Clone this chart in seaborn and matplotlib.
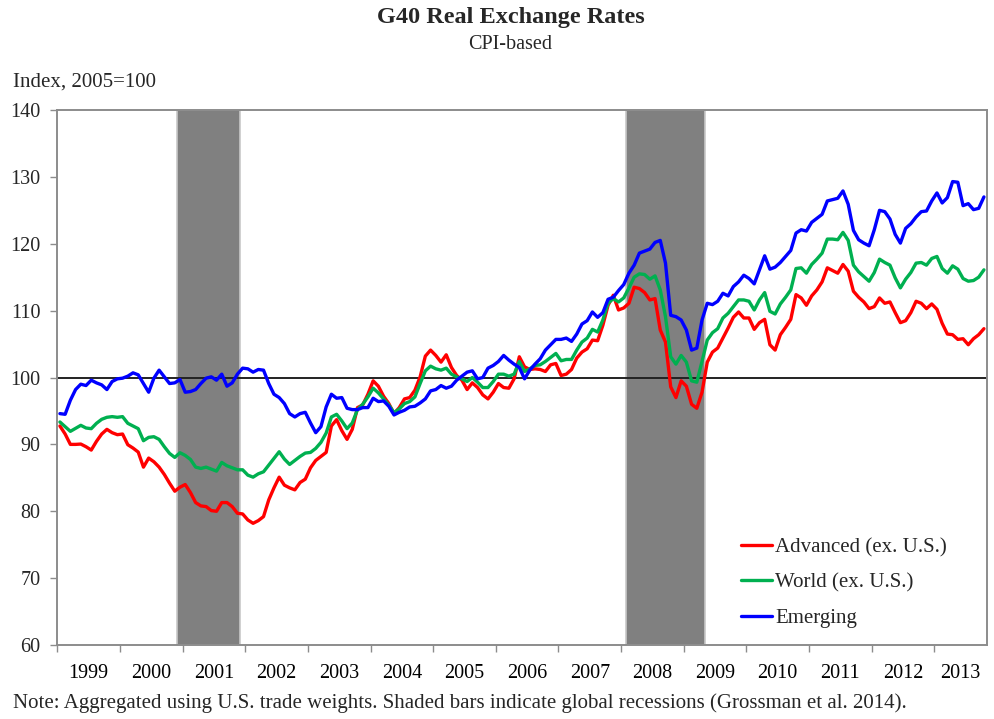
import matplotlib
matplotlib.use("Agg")
import matplotlib.pyplot as plt
import numpy as np
import pandas as pd
import seaborn as sns

# monthly index values, 2005 = 100, starting Jan 1999
start_month = "1999-01"

advanced = [
    92.75, 91.55, 90.0, 90.0, 90.05, 89.65, 89.15, 90.45, 91.55, 92.25, 91.75, 91.45,
    91.55, 89.95, 89.45, 88.85, 86.6, 87.95, 87.4, 86.6, 85.5, 84.2, 83.0, 83.6,
    84.0, 82.8, 81.3, 80.8, 80.7, 80.1, 80.0, 81.3, 81.3, 80.7, 79.7, 79.6,
    78.7, 78.2, 78.6, 79.2, 81.7, 83.5, 85.1, 83.9, 83.5, 83.2, 84.3, 84.8,
    86.5, 87.6, 88.2, 88.8, 92.75, 93.7, 92.05, 90.75, 92.25, 95.5, 95.9, 97.5,
    99.5, 98.7, 97.2, 96.1, 94.6, 95.5, 96.8, 97.0, 98.1, 100.1, 103.2, 104.1,
    103.3, 102.3, 103.4, 101.5, 100.3, 99.6, 98.2, 99.2, 98.5, 97.4, 96.8, 97.8,
    99.1, 98.5, 98.4, 99.8, 103.1, 101.6, 101.2, 101.3, 101.2, 100.9, 101.9, 102.1,
    100.3, 100.5, 101.2, 102.9, 103.8, 104.3, 105.6, 105.5, 107.8, 110.8, 112.3, 110.1,
    110.4, 111.1, 113.5, 113.3, 112.7, 111.6, 111.8, 107.1, 105.3, 98.6, 97.0, 99.5,
    98.7, 96.0, 95.4, 97.8, 102.3, 103.8, 104.4, 105.9, 107.4, 109.0, 109.8, 108.9,
    108.9, 107.2, 108.2, 108.7, 104.9, 104.1, 106.4, 107.5, 108.7, 112.4, 111.9, 110.8,
    112.2, 113.1, 114.3, 116.4, 116.0, 115.6, 116.9, 115.9, 112.9, 112.0, 111.3, 110.3,
    110.6, 111.9, 111.1, 111.3, 109.7, 108.2, 108.5, 109.7, 111.4, 111.1, 110.3, 111.0,
    110.2, 108.1, 106.5, 106.4, 105.7, 105.8, 104.9, 105.8, 106.4, 107.3,
]

world = [
    93.35, 92.65, 91.95, 92.4, 92.85, 92.45, 92.35, 93.15, 93.75, 94.05, 94.15, 94.05,
    94.15, 93.15, 92.75, 92.35, 90.55, 91.05, 91.15, 90.75, 89.65, 88.65, 88.05, 88.75,
    88.35, 87.75, 86.6, 86.4, 86.6, 86.3, 86.0, 87.3, 86.8, 86.5, 86.2, 86.2,
    85.4, 85.1, 85.6, 85.9, 86.9, 87.9, 88.9, 87.8, 87.0, 87.6, 88.2, 88.7,
    88.8, 89.4, 90.3, 91.7, 94.1, 94.5, 93.5, 92.35, 93.2, 95.2, 96.0, 97.1,
    98.4, 97.7, 96.8, 95.9, 94.75, 95.3, 96.1, 96.4, 97.1, 99.1, 101.0, 101.7,
    101.3, 101.1, 101.4, 100.5, 100.1, 99.8, 99.4, 100.0, 99.3, 98.5, 98.5, 99.4,
    100.5, 100.5, 100.2, 100.5, 102.4, 100.9, 101.3, 101.8, 101.9, 102.4, 103.0, 103.6,
    102.5, 102.7, 102.7, 104.1, 105.3, 105.9, 107.2, 106.8, 108.6, 111.1, 111.8, 111.3,
    111.9, 113.4, 115.0, 115.5, 115.4, 114.7, 115.2, 113.1, 109.1, 103.1, 102.0, 103.3,
    102.3, 99.5, 99.3, 102.4, 105.6, 106.7, 107.3, 108.9, 109.6, 110.6, 111.6, 111.6,
    111.4, 110.1, 111.6, 112.7, 109.9, 109.5, 111.0, 112.0, 113.1, 116.3, 116.4, 115.6,
    116.9, 117.7, 118.6, 120.7, 120.7, 120.6, 121.7, 120.5, 116.8, 115.8, 115.1, 114.4,
    115.7, 117.7, 117.2, 116.8, 114.9, 113.4, 114.7, 115.7, 117.1, 117.2, 116.8, 117.8,
    118.1, 116.3, 115.6, 116.7, 116.2, 114.8, 114.4, 114.5, 115.0, 116.1,
]

emerging = [
    94.6, 94.5, 96.6, 98.2, 99.0, 98.8, 99.6, 99.2, 98.9, 98.2, 99.4, 99.8,
    99.9, 100.2, 100.7, 100.4, 99.1, 97.8, 99.9, 101.1, 100.1, 99.1, 99.2, 99.7,
    97.8, 97.9, 98.2, 99.1, 99.9, 100.1, 99.6, 100.5, 98.7, 99.2, 100.5, 101.4,
    101.3, 100.8, 101.2, 101.1, 99.1, 97.5, 97.0, 96.1, 94.6, 94.1, 94.6, 94.8,
    93.2, 91.75, 92.65, 95.6, 97.5, 96.9, 97.0, 95.4, 95.2, 95.2, 95.5, 95.5,
    96.9, 96.4, 96.5, 95.7, 94.4, 94.8, 95.1, 95.6, 95.7, 96.2, 96.8, 98.0,
    98.2, 98.8, 98.4, 98.7, 99.6, 100.2, 100.8, 101.0, 99.8, 100.0, 101.4, 101.8,
    102.4, 103.3, 102.6, 102.0, 101.5, 99.8, 101.1, 102.0, 102.8, 104.1, 104.9, 105.7,
    105.7, 105.9, 105.4, 106.5, 108.0, 108.5, 109.8, 109.0, 109.7, 111.7, 112.0, 113.0,
    113.9, 115.6, 116.8, 118.6, 118.9, 119.2, 120.2, 120.5, 117.1, 109.3, 109.1, 108.6,
    107.1, 104.1, 104.4, 108.6, 111.1, 110.9, 111.4, 112.6, 112.2, 113.6, 114.3, 115.3,
    114.8, 114.0, 116.1, 118.2, 116.2, 116.5, 117.2, 118.1, 119.0, 121.6, 122.1, 121.9,
    123.2, 123.8, 124.4, 126.4, 126.6, 126.8, 127.9, 125.9, 122.0, 120.6, 120.1, 119.7,
    122.1, 125.0, 124.8, 123.7, 121.4, 120.1, 122.3, 123.0, 124.0, 124.8, 124.9, 126.4,
    127.6, 126.1, 126.9, 129.3, 129.2, 125.7, 126.0, 125.1, 125.3, 127.0,
]

series_names = ["Advanced (ex. U.S.)", "World (ex. U.S.)", "Emerging"]
series_colors = ["#ff0000", "#00b050", "#0000ff"]

# global recessions (first and last month)
recessions = [("2000-12", "2001-11"), ("2008-02", "2009-04")]

y_ticks = [60, 70, 80, 90, 100, 110, 120, 130, 140]

months = pd.period_range(start_month, periods=len(advanced), freq="M")
t = np.arange(len(months))

df = pd.DataFrame({
    "t": np.tile(t, 3),
    "value": advanced + world + emerging,
    "series": np.repeat(series_names, len(t)),
})

sns.set_theme(style="white")
plt.rcParams["font.family"] = ["Liberation Serif", "DejaVu Serif"]

fig = plt.figure(figsize=(9.95, 7.19), dpi=100)
ax = fig.add_axes([0.0576, 0.1029, 0.9339, 0.7441])

for start, end in recessions:
    s = (pd.Period(start, "M") - months[0]).n
    e = (pd.Period(end, "M") - months[0]).n
    ax.axvspan(s - 0.5, e + 0.5, facecolor="#808080", edgecolor="#c8c8c8", lw=1.2, zorder=1)

ax.axhline(100, color="#222222", lw=1.4, zorder=2)

sns.lineplot(data=df, x="t", y="value", hue="series", hue_order=series_names,
             palette=dict(zip(series_names, series_colors)), linewidth=2.4,
             legend=False, ax=ax, zorder=3)

ax.set_xlim(-0.5, len(t) - 0.5)
ax.set_ylim(60, 140)
ax.set_yticks(y_ticks)
ax.set_xlabel("")
ax.set_ylabel("")

# year boundaries as tick marks, year labels centred on each year's months
years = months.year
year_list = sorted(set(years))
bounds = [t[years == y][0] - 0.5 for y in year_list]
centers = [t[years == y].mean() for y in year_list]
ax.set_xticks(bounds)
ax.set_xticklabels([])
ax.set_xticks(centers, minor=True)
ax.set_xticklabels([str(y) for y in year_list], minor=True)
ax.tick_params(axis="x", which="major", direction="out", length=5, width=1, color="#8c8c8c", bottom=True)
ax.tick_params(axis="x", which="minor", length=0, pad=14, labelsize=14.5, colors="black")
ax.tick_params(axis="y", direction="out", length=5, width=1, color="#8c8c8c", left=True,
               labelsize=14.5, pad=7)
for sp in ax.spines.values():
    sp.set_color("#8c8c8c")
    sp.set_linewidth(1.4)

handles = [plt.Line2D([], [], color=c, lw=2.4) for c in series_colors]
leg = ax.legend(handles, series_names, loc="upper left", bbox_to_anchor=(0.7356, 0.201),
                frameon=False, borderpad=0, borderaxespad=0, handlelength=1.5,
                handletextpad=0.15, labelspacing=0.77, fontsize=15)
leg.set_zorder(5)

fig.text(0.513, 0.975, "G40 Real Exchange Rates", ha="center", va="center",
         fontsize=17.5, fontweight="bold")
fig.text(0.513, 0.938, "CPI-based", ha="center", va="center", fontsize=14.5)
fig.text(0.013, 0.886, "Index, 2005=100", ha="left", va="center", fontsize=15)
fig.text(0.013, 0.022, "Note: Aggregated using U.S. trade weights. Shaded bars indicate "
         "global recessions (Grossman et al. 2014).", ha="left", va="center", fontsize=15)

fig.savefig("out.png", dpi=100)
